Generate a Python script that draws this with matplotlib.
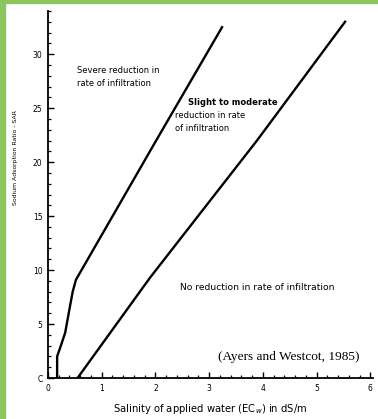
import numpy as np
import matplotlib
matplotlib.use('Agg')
import matplotlib.pyplot as plt
from matplotlib.patches import Rectangle

# boundary lines (ECw in dS/m, SAR)
severe_ecw = [0.17, 0.17, 0.24, 0.32, 0.40, 0.46, 0.52, 1.99, 3.24]
severe_sar = [0.0, 2.0, 3.0, 4.2, 6.4, 8.0, 9.1, 21.8, 32.5]
slight_ecw = [0.55, 1.90, 3.89, 5.53]
slight_sar = [0.0, 9.3, 22.0, 33.0]

x_ticks = [0, 1, 2, 3, 4, 5, 6]
y_ticks = [0, 5, 10, 15, 20, 25, 30]
y_ticklabels = ['C', '5', '10', '15', '20', '25', '30']

fig = plt.figure(figsize=(3.78, 4.19), dpi=100)
fig.patch.set_facecolor('white')

# green frame on left and top
green = '#8cc660'
fig.patches.append(Rectangle((0, 0), 5 / 378, 1, transform=fig.transFigure,
                             color=green, zorder=0))
fig.patches.append(Rectangle((0, 1 - 3 / 419), 1, 3 / 419, transform=fig.transFigure,
                             color=green, zorder=0))

ax = fig.add_axes([48 / 378, 41 / 419, 325 / 378, 367 / 419])
ax.plot(severe_ecw, severe_sar, color='black', lw=1.7)
ax.plot(slight_ecw, slight_sar, color='black', lw=1.7)

ax.set_xlim(0, 6.05)
ax.set_ylim(0, 34)
for s in ['top', 'right']:
    ax.spines[s].set_visible(False)
for s in ['left', 'bottom']:
    ax.spines[s].set_linewidth(1.3)

ax.set_xticks(x_ticks)
ax.set_xticklabels([str(v) for v in x_ticks])
ax.set_xticks(np.arange(0, 6.01, 0.2), minor=True)
ax.set_yticks(y_ticks)
ax.set_yticklabels(y_ticklabels)
ax.set_yticks(np.arange(0, 34.1, 1), minor=True)
ax.tick_params(which='major', direction='in', length=4, width=1.0,
               labelsize=5.5, pad=4)
ax.tick_params(which='minor', direction='in', length=2, width=0.9)

ax.set_xlabel('Salinity of applied water (EC$_w$) in dS/m', fontsize=7.2)
ax.xaxis.set_label_coords(0.50, -0.066)
ax.set_ylabel('Sodium Adsorption Ratio - SAR', fontsize=4.4)
ax.yaxis.set_label_coords(-0.092, 0.60)

ax.text(0.54, 27.9, 'Severe reduction in\nrate of infiltration', fontsize=6,
        ha='left', va='center', linespacing=1.5)
ax.text(2.61, 25.5, 'Slight to moderate', fontsize=6, fontweight='bold',
        ha='left', va='center')
ax.text(2.37, 23.7, 'reduction in rate\nof infiltration', fontsize=6,
        ha='left', va='center', linespacing=1.5)
ax.text(2.46, 8.4, 'No reduction in rate of infiltration', fontsize=6.6,
        ha='left', va='center')
ax.text(3.17, 1.94, '(Ayers and Westcot, 1985)', fontsize=9.6,
        family='Liberation Serif', ha='left', va='center')

fig.savefig('out.png', dpi=100)
